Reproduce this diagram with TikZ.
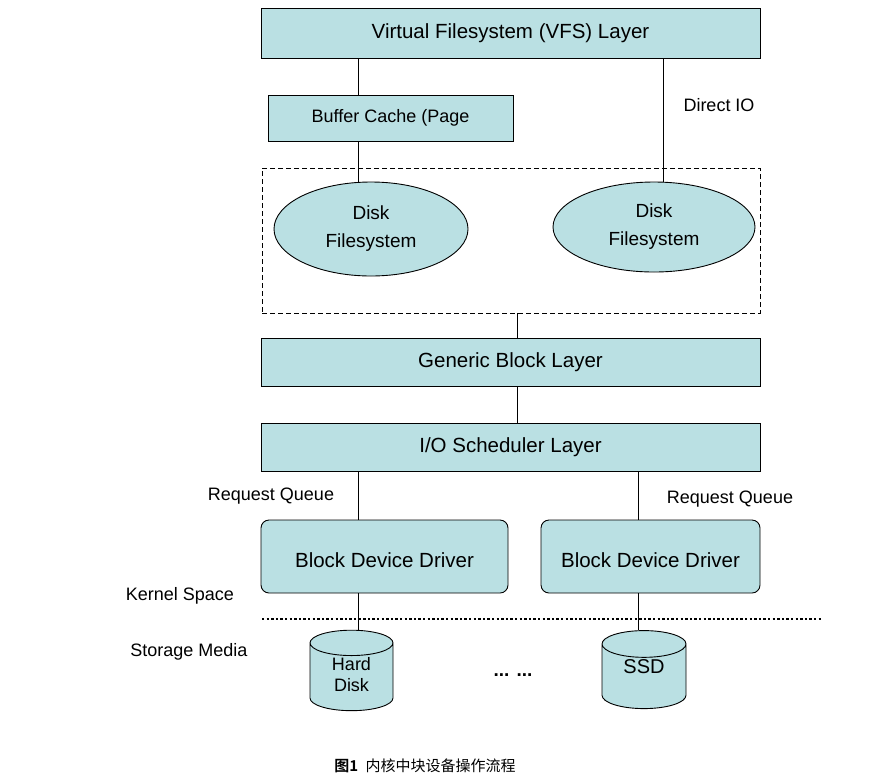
\documentclass[tikz,border=0pt]{standalone}
\usepackage{fontspec}
\setmainfont{Liberation Sans}
\newfontfamily\cjk[BoldFont={Noto Sans CJK SC Bold}]{Noto Sans CJK SC}
\usetikzlibrary{shapes.geometric}
\definecolor{layerfill}{RGB}{186,224,227}

\begin{document}
\begin{tikzpicture}[x=1pt,y=-1pt,line width=0.9pt,
  layer/.style={rectangle,draw,fill=layerfill,font=\fontsize{20.5}{24}\selectfont},
  fs node/.style={ellipse,draw,fill=layerfill,align=center,inner sep=0pt,font=\fontsize{19}{28}\selectfont},
  disk node/.style={cylinder,shape border rotate=90,aspect=0.65,draw,fill=layerfill,align=center,inner sep=0pt},
  lbl/.style={font=\fontsize{18}{22}\selectfont}]

  \useasboundingbox (0,0) rectangle (874,774);

  % columns where the connectors run
  \coordinate (colL) at (358,0);
  \coordinate (colM) at (517,0);
  \coordinate (colR) at (638,0);
  \coordinate (colD) at (663,0);

  \node[layer,minimum width=499pt,minimum height=50pt] (vfs) at (510.5,33) {Virtual Filesystem (VFS) Layer};
  \node[layer,minimum width=245pt,minimum height=46pt,font=\fontsize{18}{22}\selectfont] (buf) at (390.5,118) {Buffer Cache (Page};
  \node[lbl] (dio) at (719,105) {Direct IO};

  \node[draw,dash pattern=on 5pt off 3pt,minimum width=498pt,minimum height=145pt] (fsgroup) at (511,240.5) {};
  \node[fs node,minimum width=194pt,minimum height=94pt] (fsA) at (371,229) {Disk\\Filesystem};
  \node[fs node,minimum width=202pt,minimum height=90pt] (fsB) at (654,227) {Disk\\Filesystem};

  \node[layer,minimum width=499pt,minimum height=48pt] (gbl) at (510.5,362) {Generic Block Layer};
  \node[layer,minimum width=499pt,minimum height=48pt] (ios) at (510.5,447) {I/O Scheduler Layer};

  \node[lbl] (rqA) at (271,496) {Request Queue};
  \node[lbl] (rqB) at (730,499) {Request Queue};

  \node[layer,rounded corners=8pt,minimum width=247pt,minimum height=73pt] (bddA) at (384.5,556.5) {\raisebox{-4pt}[\height][\depth]{Block Device Driver}};
  \node[layer,rounded corners=8pt,minimum width=219pt,minimum height=73pt] (bddB) at (650.5,556.5) {\raisebox{-4pt}[\height][\depth]{Block Device Driver}};

  \node[lbl] (kspace) at (180,596) {Kernel Space};
  \node[lbl] (smedia) at (189,652) {Storage Media};
  \coordinate (sepL) at (262,619);
  \coordinate (sepR) at (822,619);
  \draw[line width=2.6pt,dash pattern=on 2.4pt off 2.2pt] (sepL) -- (sepR);

  \node[disk node,minimum width=83pt,minimum height=79pt,font=\fontsize{18}{21}\selectfont] (diskA) at (351.5,677) {\raisebox{-5pt}{\begin{tabular}{@{}c@{}}Hard\\Disk\end{tabular}}};
  \node[disk node,minimum width=84pt,minimum height=78pt,font=\fontsize{20}{24}\selectfont] (diskB) at (644,676.5) {\raisebox{19pt}{SSD}};
  \node[font=\fontsize{19}{22}\selectfont\bfseries] (dots) at (513,675) {... ...};

  \node (caption) at (425,766) {\cjk\fontsize{15}{18}\selectfont\textbf{图1}\hspace{0.5em}内核中块设备操作流程};

  \draw (vfs.south -| colL) -- (buf.north -| colL);
  \draw (buf.south -| colL) -- (fsA.north -| colL);
  \draw (vfs.south -| colD) -- (fsB.north -| colD);
  \draw (fsgroup.south -| colM) -- (gbl.north -| colM);
  \draw (gbl.south -| colM) -- (ios.north -| colM);
  \draw (ios.south -| colL) -- (bddA.north -| colL);
  \draw (ios.south -| colR) -- (bddB.north -| colR);
  \draw (bddA.south -| colL) -- (diskA.north -| colL);
  \draw (bddB.south -| colR) -- (diskB.north -| colR);
\end{tikzpicture}
\end{document}
